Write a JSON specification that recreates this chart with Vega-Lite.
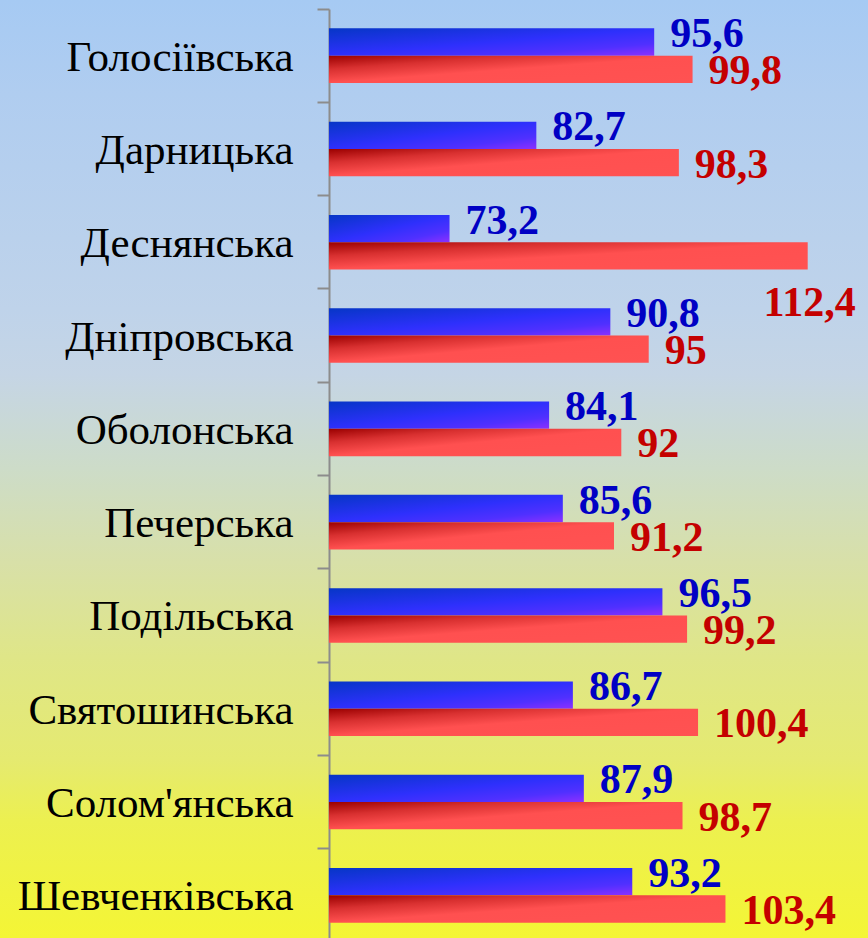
{
  "$schema": "https://vega.github.io/schema/vega-lite/v6.json",
  "width": 868,
  "height": 938,
  "padding": 0,
  "autosize": "none",
  "config": {
    "view": {
      "stroke": null,
      "fill": {
        "gradient": "linear", "x1": 0, "y1": 0, "x2": 0, "y2": 1,
        "stops": [
          {"offset": 0, "color": "#a6caf3"},
          {"offset": 0.1, "color": "#b0cdf0"},
          {"offset": 0.33, "color": "#bfd3ea"},
          {"offset": 0.4, "color": "#c5d5e5"},
          {"offset": 0.5, "color": "#cddcc8"},
          {"offset": 0.6, "color": "#d8e0a8"},
          {"offset": 0.7, "color": "#dfe688"},
          {"offset": 0.81, "color": "#e5ea70"},
          {"offset": 0.875, "color": "#ecf050"},
          {"offset": 1, "color": "#f4f535"}
        ]
      }
    }
  },
  "data": {
    "values": [
      {"district": "Голосіївська", "series": "Ряд 1", "value": 95.6},
      {"district": "Голосіївська", "series": "Ряд 2", "value": 99.8},
      {"district": "Дарницька", "series": "Ряд 1", "value": 82.7},
      {"district": "Дарницька", "series": "Ряд 2", "value": 98.3},
      {"district": "Деснянська", "series": "Ряд 1", "value": 73.2},
      {"district": "Деснянська", "series": "Ряд 2", "value": 112.4},
      {"district": "Дніпровська", "series": "Ряд 1", "value": 90.8},
      {"district": "Дніпровська", "series": "Ряд 2", "value": 95},
      {"district": "Оболонська", "series": "Ряд 1", "value": 84.1},
      {"district": "Оболонська", "series": "Ряд 2", "value": 92},
      {"district": "Печерська", "series": "Ряд 1", "value": 85.6},
      {"district": "Печерська", "series": "Ряд 2", "value": 91.2},
      {"district": "Подільська", "series": "Ряд 1", "value": 96.5},
      {"district": "Подільська", "series": "Ряд 2", "value": 99.2},
      {"district": "Святошинська", "series": "Ряд 1", "value": 86.7},
      {"district": "Святошинська", "series": "Ряд 2", "value": 100.4},
      {"district": "Солом'янська", "series": "Ряд 1", "value": 87.9},
      {"district": "Солом'янська", "series": "Ряд 2", "value": 98.7},
      {"district": "Шевченківська", "series": "Ряд 1", "value": 93.2},
      {"district": "Шевченківська", "series": "Ряд 2", "value": 103.4}
    ]
  },
  "transform": [
    {"calculate": "replace(format(datum.value, '~g'), '.', ',')", "as": "label"}
  ],
  "encoding": {
    "y": {
      "field": "district", "type": "nominal", "sort": null,
      "scale": {"range": [9, 942], "paddingInner": 0, "paddingOuter": 0},
      "axis": {
        "title": null, "orient": "left", "offset": -329, "bandPosition": 0,
        "domainColor": "#8c8c8c", "domainWidth": 2,
        "tickColor": "#8c8c8c", "tickWidth": 2, "tickSize": 12,
        "labelPadding": 24, "labelFont": "Liberation Serif", "labelFontSize": 43,
        "labelColor": "#000000", "labelBaseline": "alphabetic", "labelOffset": 15,
        "labelAlign": "right", "labelLimit": 0, "grid": false
      }
    },
    "yOffset": {
      "field": "series", "type": "nominal", "sort": ["Ряд 1", "Ряд 2"],
      "scale": {"paddingInner": 0, "paddingOuter": 0.71}
    },
    "x": {
      "field": "value", "type": "quantitative",
      "scale": {"domain": [24, 119], "zero": false, "nice": false},
      "axis": null
    }
  },
  "layer": [
    {
      "transform": [{"filter": "datum.series === 'Ряд 1'"}],
      "mark": {
        "type": "bar",
        "color": {
          "gradient": "linear", "x1": 0, "y1": 0, "x2": 1, "y2": 1,
          "stops": [
            {"offset": 0, "color": "#0636c6"},
            {"offset": 0.5, "color": "#2e30fc"},
            {"offset": 0.78, "color": "#5030ff"},
            {"offset": 1, "color": "#8c30ff"}
          ]
        }
      },
      "encoding": {"x2": {"datum": 60}}
    },
    {
      "transform": [{"filter": "datum.series === 'Ряд 2'"}],
      "mark": {
        "type": "bar",
        "color": {
          "gradient": "linear", "x1": 0, "y1": 0, "x2": 1, "y2": 1,
          "stops": [
            {"offset": 0, "color": "#9a0000"},
            {"offset": 0.25, "color": "#d83030"},
            {"offset": 0.5, "color": "#ff5050"},
            {"offset": 1, "color": "#ff5252"}
          ]
        }
      },
      "encoding": {"x2": {"datum": 60}}
    },
    {
      "transform": [{"filter": "datum.series === 'Ряд 1'"}],
      "mark": {"type": "text", "align": "left", "baseline": "alphabetic", "dx": 16, "dy": 5,
        "font": "Liberation Serif", "fontSize": 42, "fontWeight": "bold", "color": "#0000c4"},
      "encoding": {"text": {"field": "label"}}
    },
    {
      "transform": [{"filter": "datum.series === 'Ряд 2' && datum.value < 110"}],
      "mark": {"type": "text", "align": "left", "baseline": "alphabetic", "dx": 16, "dy": 15,
        "font": "Liberation Serif", "fontSize": 42, "fontWeight": "bold", "color": "#c40000"},
      "encoding": {"text": {"field": "label"}}
    },
    {
      "transform": [{"filter": "datum.series === 'Ряд 2' && datum.value >= 110"}],
      "mark": {"type": "text", "align": "right", "baseline": "alphabetic", "dx": 48, "dy": 60,
        "font": "Liberation Serif", "fontSize": 42, "fontWeight": "bold", "color": "#c40000"},
      "encoding": {"text": {"field": "label"}}
    }
  ]
}
